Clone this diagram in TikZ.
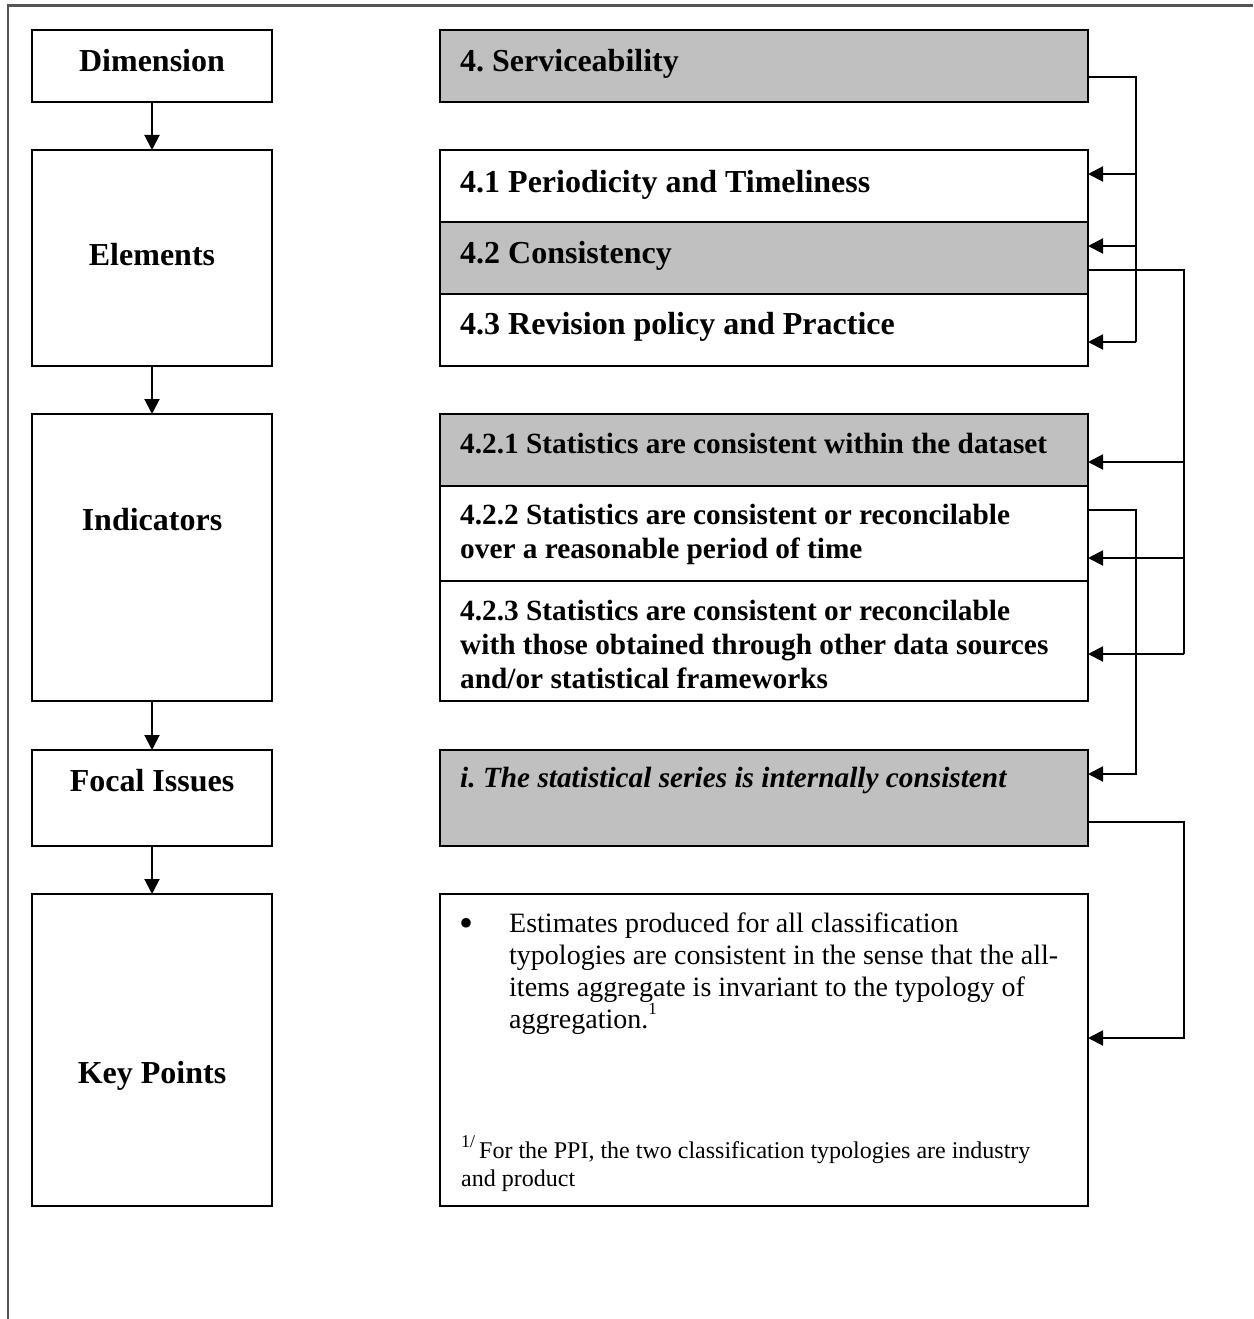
\documentclass[tikz,border=0pt]{standalone}
\usepackage{fontspec}
\setmainfont{Liberation Serif}
\usetikzlibrary{arrows.meta,calc}
\definecolor{boxgray}{RGB}{192,192,192}
\definecolor{framegray}{RGB}{85,85,85}
\tikzset{
  box/.style={draw=black, line width=2.4pt, anchor=north west, inner sep=0pt, outer sep=0pt},
  lbox/.style={box, minimum width=240pt},
  rbox/.style={box, minimum width=648pt},
  shade/.style={fill=boxgray},
  big/.style={font=\fontsize{32}{38}\selectfont\bfseries, inner sep=0pt},
  mid/.style={font=\fontsize{29.3}{34}\selectfont\bfseries, inner sep=0pt, anchor=base west},
  body/.style={font=\fontsize{28}{32}\selectfont, inner sep=0pt, anchor=base west},
  small/.style={font=\fontsize{24}{28}\selectfont, inner sep=0pt, anchor=base west},
  conn/.style={draw=black, line width=2pt},
  arr/.style={conn, -{Triangle[length=15pt,width=15pt]}},
}
\begin{document}
\begin{tikzpicture}[x=1pt,y=-1pt]
\useasboundingbox (0,0) rectangle (1253,1319);
% frame
\draw[framegray, line width=2.2pt] (8,1319) -- (8,5.5) -- (1253,5.5);

% left column boxes
\node[lbox, minimum height=72pt]  (dim)  at (32,30)  {};
\node[lbox, minimum height=216pt] (elem) at (32,150) {};
\node[lbox, minimum height=287pt] (ind)  at (32,414) {};
\node[lbox, minimum height=96pt]  (foc)  at (32,750) {};
\node[lbox, minimum height=312pt] (key)  at (32,894) {};

\node[big, anchor=base] (tdim)  at (152,72)   {Dimension};
\node[big, anchor=base] (telem) at (152,265)  {Elements};
\node[big, anchor=base] (tind)  at (152,530)  {Indicators};
\node[big, anchor=base] (tfoc)  at (152,791)  {Focal Issues};
\node[big, anchor=base] (tkey)  at (152,1083) {Key Points};

\draw[arr] (dim.south)  -- (elem.north);
\draw[arr] (elem.south) -- (ind.north);
\draw[arr] (ind.south)  -- (foc.north);
\draw[arr] (foc.south)  -- (key.north);

% right column boxes
\node[rbox, shade, minimum height=72pt]  (serv) at (440,30)  {};
\node[rbox, minimum height=72pt]         (e41)  at (440,150) {};
\node[rbox, shade, minimum height=72pt]  (e42)  at (440,222) {};
\node[rbox, minimum height=72pt]         (e43)  at (440,294) {};
\node[rbox, shade, minimum height=72pt]  (i421) at (440,414) {};
\node[rbox, minimum height=95pt]         (i422) at (440,486) {};
\node[rbox, minimum height=120pt, line width=2.8pt] (i423) at (440,581) {};
\node[rbox, shade, minimum height=96pt]  (fi)   at (440,750) {};
\node[rbox, minimum height=312pt]        (kp)   at (440,894) {};

\node[big, anchor=base west] (tserv) at (460,72)  {4.~Serviceability};
\node[big, anchor=base west] (t41)   at (460,192) {4.1 Periodicity and Timeliness};
\node[big, anchor=base west] (t42)   at (460,263) {4.2 Consistency};
\node[big, anchor=base west] (t43)   at (460,334) {4.3 Revision policy and Practice};

\node[mid] (t421)  at (460,453) {4.2.1 Statistics are consistent within the dataset};
\node[mid] (t422a) at (460,524) {4.2.2 Statistics are consistent or reconcilable};
\node[mid] (t422b) at (460,558) {over a reasonable period of time};
\node[mid] (t423a) at (460,620) {4.2.3 Statistics are consistent or reconcilable};
\node[mid] (t423b) at (460,654) {with those obtained through other data sources};
\node[mid] (t423c) at (460,688) {and/or statistical frameworks};

\node[mid, font=\fontsize{29.3}{34}\selectfont\bfseries\itshape] (tfi) at (460,787) {i.~The statistical series is internally consistent};

\node[body, font=\fontsize{40}{40}\selectfont] (bul) at (459,936) {•};
\node[body] (k1) at (509,932)  {Estimates produced for all classification};
\node[body] (k2) at (509,964)  {typologies are consistent in the sense that the all-};
\node[body] (k3) at (509,996)  {items aggregate is invariant to the typology of};
\node[body] (k4) at (509,1028) {aggregation.\raisebox{14pt}{\fontsize{17}{18}\selectfont 1}};
\node[small] (f1) at (461,1158) {\raisebox{11pt}{\fontsize{18}{18}\selectfont 1/}\,For the PPI, the two classification typologies are industry};
\node[small] (f2) at (461,1186) {and product};

% connectors: serviceability -> elements
\coordinate (a0) at (1136,77);
\coordinate (a1) at (1136,174);
\coordinate (a2) at (1136,246);
\coordinate (a3) at (1136,342);
\draw[conn] (serv.east |- a0) -- (a0) -- (a3);
\draw[arr] (a1) -- (e41.east |- a1);
\draw[arr] (a2) -- (e42.east |- a2);
\draw[arr] (a3) -- (e43.east |- a3);

% consistency -> indicators
\coordinate (b0) at (1184,270);
\coordinate (b1) at (1184,462);
\coordinate (b2) at (1184,558);
\coordinate (b3) at (1184,654);
\draw[conn] (e42.east |- b0) -- (b0) -- (b3);
\draw[arr] (b1) -- (i421.east |- b1);
\draw[arr] (b2) -- (i422.east |- b2);
\draw[arr] (b3) -- (i423.east |- b3);

% 4.2.2 -> focal issue
\coordinate (c0) at (1136,510);
\coordinate (c1) at (1136,774);
\draw[arr] (i422.east |- c0) -- (c0) -- (c1) -- (fi.east |- c1);

% focal issue -> key points
\coordinate (d0) at (1184,822);
\coordinate (d1) at (1184,1038);
\draw[arr] (fi.east |- d0) -- (d0) -- (d1) -- (kp.east |- d1);
\end{tikzpicture}
\end{document}
